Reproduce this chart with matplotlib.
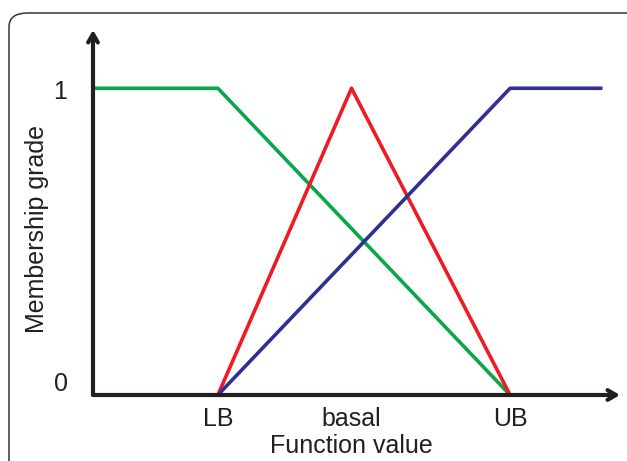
import matplotlib.pyplot as plt
from matplotlib.patches import FancyBboxPatch

plt.rcParams['font.family'] = ['Liberation Sans', 'DejaVu Sans']

# x positions (axis units), y membership values
green_x = [0.0, 1.0, 3.34]
green_y = [1, 1, 0]
red_x = [1.0, 2.07, 3.34]
red_y = [0, 1, 0]
blue_x = [1.0, 3.34, 4.08]
blue_y = [0, 1, 1]
xtick_pos = [1.0, 2.07, 3.34]
xtick_labels = ['LB', 'basal', 'UB']
ytick_pos = [0, 1]
ytick_labels = ['0', '1']

W, H = 627, 461
fig = plt.figure(figsize=(W / 100, H / 100), dpi=100)

# rounded frame running off the right/bottom edge
frame = FancyBboxPatch((9 / W, -0.2), 1.2, (H - 13) / H + 0.2,
                       boxstyle='round,pad=0,rounding_size=0.03',
                       transform=fig.transFigure, fill=False,
                       edgecolor='#333333', lw=1.1)
fig.patches.append(frame)

ax = fig.add_axes([93 / W, (H - 395) / H, (620 - 93) / W, (395 - 30) / H])
xmax, ymax = 4.22, 1.19
ax.set_xlim(0, xmax)
ax.set_ylim(0, ymax)
ax.axis('off')

ax.plot(green_x, green_y, color='#0aa64b', lw=2.6, solid_capstyle='butt')
ax.plot(red_x, red_y, color='#ed1c24', lw=2.6, solid_capstyle='butt')
ax.plot(blue_x, blue_y, color='#2e3192', lw=2.6, solid_capstyle='butt')

arrow = dict(arrowstyle='->,head_length=0.6,head_width=0.35', lw=3.0, color='#231f20',
             shrinkA=0, shrinkB=0)
ax.annotate('', xy=(xmax, 0), xytext=(0, 0), arrowprops=arrow, annotation_clip=False)
ax.annotate('', xy=(0, ymax), xytext=(0, 0), arrowprops=arrow, annotation_clip=False)

for p, lab in zip(xtick_pos, xtick_labels):
    ax.text(p, -0.078, lab, ha='center', va='center', fontsize=18, color='#231f20')
for p, lab in zip(ytick_pos, ytick_labels):
    ax.text(-0.26, p + (0.035 if p == 0 else -0.012), lab, ha='center', va='center',
            fontsize=18, color='#231f20')

ax.text(2.07, -0.165, 'Function value', ha='center', va='center', fontsize=18, color='#231f20')
ax.text(-0.45, 0.54, 'Membership grade', ha='center', va='center', rotation=90,
        fontsize=18, color='#231f20')

fig.savefig('out.png', dpi=100)
